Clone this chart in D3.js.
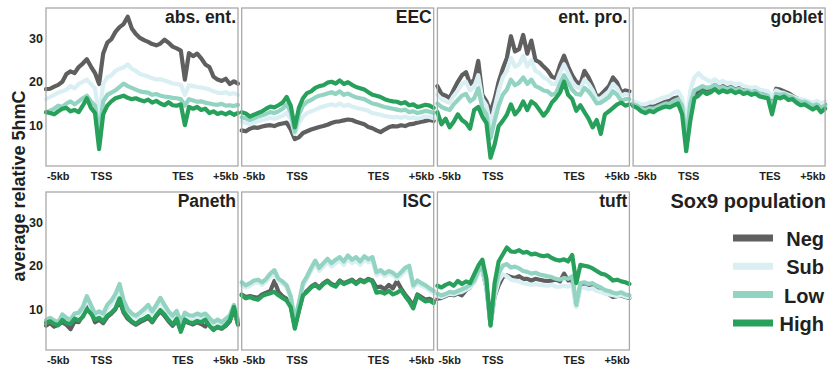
<!DOCTYPE html>
<html>
<head>
<meta charset="utf-8">
<script src="https://cdn.jsdelivr.net/npm/d3@7"></script>
<style>
  body { margin: 0; background: #fff; }
  text { font-family: "Liberation Sans", Arial, sans-serif; font-weight: bold; fill: #231f20; }
</style>
</head>
<body>
<div id="chart"></div>
<script>
// panels (cell types) and Sox9 populations
const panels = ["abs. ent.", "EEC", "ent. pro.", "goblet", "Paneth", "ISC", "tuft"];
const populations = ["Neg", "Sub", "Low", "High"];
const popColors = ["#5f5f5f", "#d9eff3", "#93d3c2", "#27a05b"];

const xTickLabels = ["-5kb", "TSS", "TES", "+5kb"];
const xTickBins = [3, 13.6, 33.5, 44];
const yTicks = [10, 20, 30];

// average relative 5hmC, 48 bins across -5kb .. TSS .. TES .. +5kb
const absNeg = [18.3,18.4,18.9,19.3,20,21.8,22.4,22,23.4,24.2,25.2,23.5,22,19.5,26.5,29,29.8,31.5,32.6,33.3,35,32.3,31,30.1,29.6,29.2,28.7,28.4,28.8,29.7,29,28.1,27.7,27.2,20.5,26.6,25.9,26.5,25.4,24,23.4,21.2,20.5,20.2,20.7,19.5,20.1,19.6];
const absSub = [16,16.5,17,17.5,17.8,18.2,19,18.5,19.5,20,20.5,19.5,18.5,12,19.5,21,21.5,22.5,23,23.3,24,23,22.5,21.8,21.5,21.2,20.8,20.5,20.6,20.3,20,19.6,19.5,19.3,17,19.2,19,18.8,18.7,18.5,18.2,17.8,17.5,17.4,17.6,17.2,17.4,17];
const absLow = [13,13.3,13.8,14.5,14.2,15,15.5,14.8,15.5,16.2,16.8,15.5,14.5,8,15.5,17,17.5,18,18.8,19.6,19,18.6,18.2,17.8,17.6,17.5,17,17.2,16.8,16.6,16.5,16.3,16.2,16,14.5,16,15.7,15.4,15.5,15.2,15,14.8,14.7,14.9,14.5,14.6,14.4,14.7];
const absHigh = [13,12.8,12.5,13.2,13.8,14,13.2,13.5,13,14.5,16.2,14,12.8,4.5,12.5,14.5,15.5,16.2,16.5,16.8,16.3,16,16.2,15.8,15.5,15.9,15.2,15.6,15,14.6,15.3,14.6,14.5,14.8,10,14.2,13.8,14.2,13.5,13.8,12.8,13.2,12.6,12.9,12.5,13,12.4,12.8];

const eecNeg = [8.8,8.6,9.2,9.5,9.4,9.7,9.9,10,9.8,10.2,10.4,10.6,9,6.8,7.2,8.2,8.6,9,9.3,9.6,9.8,10.1,10.5,10.8,10.9,11.1,11.3,11.2,10.8,10.5,10.2,9.6,9.3,8.8,8.4,9,9.5,9.8,9.7,10,9.8,10.2,10.3,10.6,10.8,11,11.2,11];
const eecSub = [10.8,10.5,10.2,10.6,10.9,11.2,11.4,11.7,11.5,11.8,12.2,12.8,11.5,8,10.5,12,12.8,13.2,13.6,14,14.3,14.6,14.8,14.5,15,14.4,14.7,14.3,14,13.8,13.6,13.3,12.8,12.6,12.4,12.1,12,11.8,11.9,11.7,12,11.6,11.8,11.5,11.7,12,11.9,11.6];
const eecLow = [11.8,11.6,11.2,11.6,12,12.3,12.6,13,12.8,13.2,13.8,14.8,13,8.5,12.5,14.5,15.4,15.8,16.4,16.8,17,17.3,17.6,17.2,17.8,17,17.3,16.8,16.4,16.2,16,15.5,15,14.8,14.5,14.2,14,13.8,13.6,13.4,13.6,13,13.2,12.8,13,13.3,13.1,12.8];
const eecHigh = [13,12.7,12,12.4,12.8,13.2,13.8,14.3,14.1,14.6,15.2,16.5,14.5,9.5,14,16.2,17.4,17.8,18.6,19,19.2,19.8,20,19.6,20.3,19.5,19.9,19.3,18.8,18.5,18.2,17.6,17,16.8,16.5,16,15.7,15.5,15.4,15,15.3,14.6,14.8,14.2,14.4,14.7,14.5,14];

const proNeg = [19,17.2,16.8,16.3,18.2,20,21.5,22.2,19.5,20.5,24.8,17,15.5,13,16,20,23,25.5,30.5,27,27.5,30.8,26.5,29.5,25,24.5,23.5,22.6,21.2,20.8,23.8,26,23.5,21.5,20,19.5,22.5,21,19,16.5,17,18,19,21,19.8,17.5,18,17.8];
const proSub = [17,16,15.5,15.2,16.8,18,19.5,20,18,18.8,21.5,16,14.5,10,14,18,21,22.5,25.5,23.5,24,26,23.5,25,22.5,22,21,20.5,19.5,19.5,22,24,22,20,18.8,18.5,20.5,19.5,18,16,16.2,17,17.8,19.5,18.5,16.8,17.2,17];
const proLow = [15,14.2,13.8,13.5,14.8,15.8,16.8,17.2,15.5,16.2,18.5,14,12.5,7,11,14.5,17,18.2,20.5,19.2,19.8,21,19.5,20.5,19,18.6,18,17.8,17,17.4,19.5,21.5,19.8,18.2,17.2,17,18.6,17.8,16.5,15,15.2,15.8,16.5,17.8,17,15.6,16,16];
const proHigh = [13,10.2,11.5,9.5,10.8,12.5,11.2,10.5,9.2,13.5,14.2,12,10.5,2.5,5.5,9.8,11,12.4,14.8,12.5,13.6,15.5,13.5,15.5,14.8,13.5,12.2,13.4,15.2,16.2,17.5,20,17,16,13.3,14.6,13,11.5,9.5,11.2,8,12.5,13.2,14,14.8,15.2,14.5,14.8];

const gobNeg = [15,14.8,14.2,14,14.4,14.2,14.6,15,15.4,15.6,16.2,16.4,15,9,15.5,17,17.6,18.5,18.2,18.6,19.3,18.6,19,18.5,18.8,18.2,18.6,18,18.2,17.8,18,17.5,17.2,17.4,15,18.4,18.2,17.8,17.4,16.8,16.2,15.8,15.6,15.2,14.8,15.2,14.4,14.8];
const gobSub = [15.5,15.2,14.8,14.8,15.2,15.4,15.8,16.2,16.5,16.8,17.5,17.8,16.2,10,18,21,22,21,20.5,20,20.6,19.8,20.2,19.6,19.8,19.4,19.6,19,18.8,18.6,18.8,18.2,18,17.8,16.5,18,17.6,17.4,17,16.6,16.2,16,15.8,15.5,15.2,15.6,15,15.4];
const gobLow = [14.8,14.5,13.8,13.5,13.9,13.8,14.2,14.6,15,15,15.6,16,14.5,7,15,18,18.5,19,18.6,18.8,19.3,18.6,18.8,18.3,18.6,18.1,18.4,17.8,18,17.6,17.8,17.3,17,16.8,14,17.2,17,17.2,16.6,16.4,15.8,15.4,15.4,15,14.5,14.8,14,14.5];
const gobHigh = [14.4,14,13.2,12.8,13.3,13,13.6,14,14.3,14.1,14.6,15,12.5,4,11,16.2,16.8,17.8,17.2,17.6,18.3,17.5,18,17.6,18,17.4,17.8,17.2,17.5,17,17.3,16.6,16.4,16.2,12.5,16.5,16.2,16.6,15.8,16,15.2,14.6,14.8,14.2,13.6,14.2,13,13.8];

const panNeg = [6.2,6.8,6,6.4,7,6.4,5.4,7.2,7,8.5,11,9.5,7,7.6,6.8,8.2,9,10,12,9.2,7.8,7,6.4,7,7.5,8,7,8.4,9.5,8.5,7.2,6.2,7.4,5.2,7.3,6.8,6.5,7,6.6,6,7.3,5.6,5.8,5.5,6.2,7.2,10,6.4];
const panSub = [7,7.4,6.9,6.5,8.2,7.5,7,8.4,8.6,9.8,12.2,10.4,8.4,8.8,8.4,10.2,11.2,12.6,14.6,11.2,9.4,8.4,8,8.6,9.3,10.2,8.9,10.3,11.8,10.3,8.9,8,9,6.5,8.6,8,7.9,8.4,8,8.4,7.5,6.5,7.1,6.5,7.2,8,10.4,7];
const panLow = [7.5,8,7.4,7,8.8,8,7.6,9,9.2,10.5,13,11,9,9.5,9,11,12,13.5,15.8,12,10,9,8.5,9.2,10,11,9.5,11,12.6,11,9.5,8.5,9.6,7,9.2,8.6,8.5,9,8.6,9,8,7,7.6,7,7.8,8.6,11,7.5];
const panHigh = [6.9,7.2,6.6,6.3,7.5,6.8,6.6,7.8,7.4,8.2,10,9,7.6,8,7.2,8.5,9.2,10.2,12.5,9.5,8.2,7.2,6.6,7.4,7.8,8.4,7.2,8.6,9.8,8.8,7.5,6.5,7.8,4.8,7.6,7,6.8,7.3,7,7.6,6.2,5.2,6,5.6,6.4,7.5,10.5,6.6];

const iscNeg = [13.4,12.8,13,12.8,12.6,13.4,13.8,14.2,16.5,14,13,12.4,10.8,6,9.8,13.4,14.2,15.2,15.8,15,16,16.6,15.8,15.4,16.6,16,16.4,16.8,16,16.8,16.4,17,16.6,15,15.2,14.6,15.6,14.8,16.5,14.8,13.4,12.2,10.8,13.4,12.8,12.2,12.4,11.8];
const iscSub = [15.6,15,15.4,16,16.2,15.6,16.4,17.4,18.2,16.4,15.8,15,12.4,7,11,15.4,17,18.8,20.4,18.8,19.8,20.8,19.8,20.6,21.2,20.2,21.6,20.6,21.2,20.2,21.4,20.8,21.2,17.8,18.4,17.6,18.2,17.8,17,17.8,18.8,19.2,15,16,15.4,15,14.2,13.6];
const iscLow = [16.2,15.5,16,16.6,16.8,16.2,17,18.2,19,17,16.4,15.5,13,7.5,11.5,16,17.6,19.5,21.2,19.5,20.6,21.6,20.6,21.4,22,21,22.4,21.4,22,21,22.2,21.5,22,18.5,19,18.2,18.8,18.4,17.6,18.5,19.5,20,15.5,16.6,16,15.5,14.8,14.2];
const iscHigh = [13.2,12.5,12.8,12.4,12.2,13,13.4,13.7,14,13.2,12.6,12,10.5,5.5,9.5,13.2,14,15,15.6,14.8,15.8,16.4,15.6,15.2,16.4,15.8,16.2,16.6,15.8,16.6,16.2,16.8,16.4,13.8,14,13.6,14.2,13.4,13.8,14.4,13,11.8,10.2,13.2,12.4,11.8,12,11.4];

const tuftNeg = [12.4,12.6,13,13.4,13.2,13.6,13.2,14.4,15,17,18.2,19,15,6.5,13,15.5,17.4,17.8,17.4,17.2,17.6,17,17,16.6,17,16.8,16.6,16.5,16.6,16.8,16.4,18.2,16.6,16.8,10.8,15.4,15.6,15.2,15.4,14.8,14.2,13.8,13.4,12.8,13,13.2,12.8,12.6];
const tuftSub = [13,12.8,13.2,13.6,13.4,13.8,14,14.5,15,16,18,19,15,6.4,13,16.5,18,17.6,16.8,16.6,16.4,16,15.8,15.6,15.8,15.6,15.5,15.4,15.6,15.2,15.2,15.4,15.2,15.6,10.5,14.8,15,14.6,14.8,14.2,14,13.6,13.4,13.2,13,13.3,12.9,12.8];
const tuftLow = [13.6,13.2,13.5,14,13.8,14.2,14.6,15,15.6,16.5,18.8,19.6,15.5,6.4,14,18.2,20,20.4,19.6,19.8,19.4,18.8,18.6,18.2,18.4,18,17.8,17.6,17.4,17,16.8,17.2,17,17.6,11,16,16.2,15.8,16,15.4,15,14.4,14.2,13.8,13.6,13.9,13.4,13.2];
const tuftHigh = [15.4,15,15.6,16,15.4,16.5,15.8,16.4,16,18,20,21.4,17,6.2,16,21,22.6,24.2,23.3,23.2,23.6,23,23.2,22.6,22.8,22.4,22.2,22.4,21.8,21.4,21.2,21.5,21,22.5,16,20.2,20,19.8,19.4,18.8,18.2,18,17.4,16.6,16.8,16.4,16.2,15.8];

// table: one entry per panel, series in draw order Neg, Sub, Low, High
const seriesByPanel = [
  [absNeg, absSub, absLow, absHigh],
  [eecNeg, eecSub, eecLow, eecHigh],
  [proNeg, proSub, proLow, proHigh],
  [gobNeg, gobSub, gobLow, gobHigh],
  [panNeg, panSub, panLow, panHigh],
  [iscNeg, iscSub, iscLow, iscHigh],
  [tuftNeg, tuftSub, tuftLow, tuftHigh]
];

const w = 829, h = 374;
const left = 46, colStep = 195.7, pw = 192, ph = 158;
const rowTops = [8, 192];

const svg = d3.select('#chart').append('svg')
  .attr('width', w)
  .attr('height', h);

const nBins = absNeg.length;
const x = d3.scaleLinear().domain([0, nBins - 1]).range([0, pw]);
const y = d3.scaleLinear().domain([0.6, 37]).range([ph, 0]);

const line = d3.line()
  .x((d, i) => x(i))
  .y(d => y(d));

panels.forEach((name, p) => {
  const col = p % 4, row = Math.floor(p / 4);
  const g = svg.append('g')
    .attr('transform', `translate(${left + col * colStep},${rowTops[row]})`);

  seriesByPanel[p].forEach((vals, s) => {
    g.append('path')
      .datum(vals)
      .attr('d', line)
      .attr('fill', 'none')
      .attr('stroke', popColors[s])
      .attr('stroke-width', 4.2)
      .attr('stroke-linejoin', 'round')
      .attr('stroke-linecap', 'round');
  });

  // frame
  g.append('rect')
    .attr('width', pw)
    .attr('height', ph)
    .attr('fill', 'none')
    .attr('stroke', '#a9a9a9')
    .attr('stroke-width', 1.3);

  g.append('text')
    .attr('x', pw - 2)
    .attr('y', 15)
    .attr('text-anchor', 'end')
    .style('font-size', '17.5px')
    .text(name);

  // x labels
  g.selectAll('.xl')
    .data(xTickLabels)
    .enter()
    .append('text')
    .attr('x', (d, i) => x(xTickBins[i]))
    .attr('y', ph + 14)
    .attr('text-anchor', 'middle')
    .style('font-size', '11px')
    .text(d => d);

  // y labels on the first column only
  if (col === 0) {
    g.selectAll('.yl')
      .data(yTicks)
      .enter()
      .append('text')
      .attr('x', -3)
      .attr('y', d => y(d))
      .attr('dy', '0.36em')
      .attr('text-anchor', 'end')
      .style('font-size', '12.5px')
      .text(d => d);
  }
});

svg.append('text')
  .attr('transform', 'rotate(-90)')
  .attr('x', -186)
  .attr('y', 25)
  .attr('text-anchor', 'middle')
  .style('font-size', '18px')
  .text('average relative 5hmC');

// legend
const legend = svg.append('g');
legend.append('text')
  .attr('x', 826)
  .attr('y', 208)
  .attr('text-anchor', 'end')
  .style('font-size', '20px')
  .text('Sox9 population');

populations.forEach((pop, i) => {
  const ly = 238 + i * 28.3;
  legend.append('line')
    .attr('x1', 733).attr('x2', 773)
    .attr('y1', ly).attr('y2', ly)
    .attr('stroke', popColors[i])
    .attr('stroke-width', 7);
  legend.append('text')
    .attr('x', 824)
    .attr('y', ly + 8)
    .attr('text-anchor', 'end')
    .style('font-size', '20px')
    .text(pop);
});
</script>
</body>
</html>
